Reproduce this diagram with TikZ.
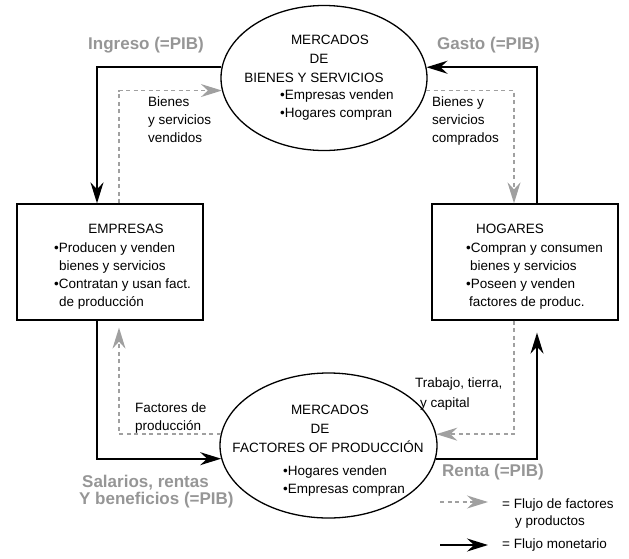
\documentclass[tikz,border=0pt]{standalone}
\usepackage{fontspec}
\setmainfont{Liberation Sans}
\usetikzlibrary{shapes.geometric,arrows.meta}
\definecolor{flujogris}{RGB}{160,160,160}
\definecolor{textogris}{RGB}{150,150,150}
\begin{document}
\begin{tikzpicture}[x=1pt,y=-1pt,
  mercado/.style={shape=ellipse,draw=black,line width=1.3pt,inner sep=0pt,minimum height=145pt},
  agente/.style={shape=rectangle,draw=black,line width=1.3pt,inner sep=0pt,minimum width=186pt,minimum height=116pt},
  texto/.style={font=\fontsize{13.5}{18}\selectfont,inner sep=0pt,anchor=base west,align=left},
  titulo/.style={font=\fontsize{13.5}{18}\selectfont,inner sep=0pt,anchor=base},
  etiqueta/.style={font=\fontsize{17}{17}\selectfont\bfseries,text=textogris,inner sep=0pt,anchor=base west},
  monetario/.style={draw=black,line width=1.8pt,-{Stealth[length=21pt,width=13pt,inset=7pt]}},
  flujo/.style={draw=flujogris,line width=1.4pt,dash pattern=on 4pt off 3.5pt,-{Stealth[length=21pt,width=13pt,inset=7pt]}}]
\useasboundingbox (0,0) rectangle (629,558);
% mercados y agentes
\node (mb) at (324,78) [mercado,minimum width=206pt] {};
\node (mf) at (328.5,445.5) [mercado,minimum width=217pt] {};
\node (emp) at (110,262) [agente] {};
\node (hog) at (525,262) [agente] {};
% textos de los mercados (base = ultima linea)
\node (mb1) at (330,44) [titulo] {MERCADOS};
\node (mb2) at (319,63) [titulo] {DE};
\node (mb3) at (314,82) [titulo] {BIENES Y SERVICIOS};
\node (mb4) at (280,117) [texto] {•Empresas venden\\•Hogares compran};
\node (mf1) at (330,414) [titulo] {MERCADOS};
\node (mf2) at (320,433) [titulo] {DE};
\node (mf3) at (328,452) [titulo] {FACTORES OF PRODUCCIÓN};
\node (mf4) at (283,493) [texto] {•Hogares venden\\•Empresas compran};
% textos de los agentes
\node (emp1) at (126,233) [titulo] {EMPRESAS};
\node (emp2) at (54,306) [texto] {•Producen y venden\\\hspace*{5pt}bienes y servicios\\•Contratan y usan fact.\\\hspace*{5pt}de producción};
\node (hog1) at (510,233) [titulo] {HOGARES};
\node (hog2) at (466,306) [texto] {•Compran y consumen\\\hspace*{4pt}bienes y servicios\\•Poseen y venden\\\hspace*{3pt}factores de produc.};
% flujos
\draw[monetario] (mb.174) -| ([xshift=-13pt]emp.north);
\draw[flujo] ([xshift=9pt]emp.north) |- (mb.187);
\draw[monetario] ([xshift=12pt]hog.north) |- (mb.6);
\draw[flujo] (mb.-7) -| ([xshift=-11pt]hog.north);
\draw[monetario] ([xshift=-13pt]emp.south) |- (mf.187);
\draw[flujo,shorten >=7pt] (mf.174) -| ([xshift=9pt]emp.south);
\draw[monetario,shorten >=12pt] (mf.-7) -| ([xshift=12pt]hog.south);
\draw[flujo] ([xshift=-11pt]hog.south) |- (mf.6);
% etiquetas de los flujos
\node (ingreso) at (88,49) [etiqueta] {Ingreso (=PIB)};
\node (gasto) at (437,49) [etiqueta] {Gasto (=PIB)};
\node (renta) at (442,476) [etiqueta] {Renta (=PIB)};
\node (sal1) at (82,487) [etiqueta] {Salarios, rentas};
\node (sal2) at (79,504) [etiqueta] {Y beneficios (=PIB)};
\node (bv) at (148,142) [texto] {Bienes\\y servicios\\vendidos};
\node (bc) at (432,142) [texto] {Bienes y\\servicios\\comprados};
\node (fp) at (135,430) [texto] {Factores de\\producción};
\node (tt1) at (415,387) [texto] {Trabajo, tierra,};
\node (tt2) at (420,407) [texto] {y capital};
% leyenda
\coordinate (lg1) at (440,502);
\coordinate (lg2) at (440,545);
\node (leg1) at (502,508) [texto] {= Flujo de factores};
\node (leg1b) at (515,525) [texto] {y productos};
\node (leg2) at (502,548) [texto] {= Flujo monetario};
\draw[flujo,shorten >=14pt] (lg1) -- (lg1 -| leg1.west);
\draw[monetario,shorten >=14pt] (lg2) -- (lg2 -| leg2.west);
\end{tikzpicture}
\end{document}
